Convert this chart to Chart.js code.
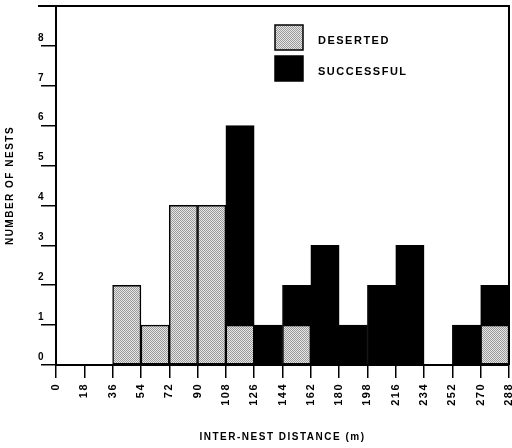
<!DOCTYPE html>
<html>
<head>
<meta charset="utf-8">
<script src="https://cdn.jsdelivr.net/npm/chart.js@4.4.1/dist/chart.umd.min.js"></script>
<style>
  html, body { margin: 0; padding: 0; background: #fff; }
  #wrap { width: 512px; height: 448px; }
</style>
</head>
<body>
<div id="wrap"><canvas id="myChart" width="512" height="448"></canvas></div>
<script>
// bin edges (m) - also the x tick labels
var distanceEdges = [0, 18, 36, 54, 72, 90, 108, 126, 144, 162, 180, 198, 216, 234, 252, 270, 288];
// number of nests per 18 m bin
var deserted   = [0, 0, 2, 1, 4, 4, 1, 0, 1, 0, 0, 0, 0, 0, 0, 1];
var successful = [0, 0, 0, 0, 0, 0, 5, 1, 1, 3, 1, 2, 3, 0, 1, 1];
var nestTicks  = [0, 1, 2, 3, 4, 5, 6, 7, 8];

//stipple fill for the deserted bars
function stipple(){
    var c = document.createElement("canvas");
    c.width = 2; c.height = 2;
    var g = c.getContext("2d");
    g.fillStyle = "#e6e6e6"; g.fillRect(0, 0, 2, 2);
    g.fillStyle = "#9a9a9a"; g.fillRect(0, 0, 1, 1); g.fillRect(1, 1, 1, 1);
    return g.createPattern(c, "repeat");
}

function toPoints(values){
    var pts = [];
    for (var i = 0; i < values.length; i++) {
        pts.push({x: (distanceEdges[i] + distanceEdges[i + 1]) / 2, y: values[i] === 0 ? null : values[i]});
    }
    return pts;
}

var FONT = "'Liberation Sans', Arial, sans-serif";

var framePlugin = {
    id: "frame",
    beforeDraw: function(chart){
        chart.ctx.letterSpacing = "1.5px";
    },
    afterDraw: function(chart){
        var ctx = chart.ctx, a = chart.chartArea;
        ctx.save();
        ctx.strokeStyle = "#000";
        ctx.lineWidth = 2;
        ctx.beginPath();
        ctx.moveTo(a.left - 18, a.top);
        ctx.lineTo(a.right, a.top);
        ctx.lineTo(a.right, a.bottom);
        ctx.stroke();

        //legend inside the plot
        ctx.font = "bold 11px " + FONT;
        ctx.textBaseline = "middle";
        ctx.fillStyle = "#000";
        chart.data.datasets.forEach(function(ds, i){
            var x = a.left + 219, y = a.top + 19 + i * 31;
            ctx.fillStyle = ds.backgroundColor;
            ctx.fillRect(x, y, 28, 25);
            ctx.lineWidth = 1.5;
            ctx.strokeRect(x, y, 28, 25);
            ctx.fillStyle = "#000";
            ctx.fillText(ds.label, x + 43, y + 16);
        });
        ctx.restore();
    }
};

var myChart = document.getElementById("myChart").getContext("2d");
var chart = new Chart(myChart, {
    type: "bar",
    data: {
        datasets: [
            {
                label: "DESERTED",
                data: toPoints(deserted),
                backgroundColor: stipple(),
                borderColor: "#000",
                borderWidth: 1.5,
                borderSkipped: false,
                barPercentage: 1,
                categoryPercentage: 1
            },
            {
                label: "SUCCESSFUL",
                data: toPoints(successful),
                backgroundColor: "#000",
                borderColor: "#000",
                borderWidth: 1,
                barPercentage: 1,
                categoryPercentage: 1
            }
        ]
    },
    options: {
        responsive: false,
        animation: false,
        layout: { padding: { top: 6, right: 3, left: 0, bottom: 0 } },
        plugins: {
            legend: { display: false },
            tooltip: { enabled: false }
        },
        scales: {
            x: {
                type: "linear",
                stacked: true,
                offset: false,
                min: distanceEdges[0],
                max: distanceEdges[distanceEdges.length - 1],
                afterBuildTicks: function(scale){
                    scale.ticks = distanceEdges.map(function(v){ return {value: v}; });
                },
                afterFit: function(scale){
                    scale.height = 83;
                    scale.paddingLeft = 0;
                    scale.paddingRight = 0;
                },
                grid: { offset: false, drawOnChartArea: false, tickLength: 13, color: "#000", lineWidth: 1.5 },
                border: { display: true, color: "#000", width: 2 },
                ticks: {
                    autoSkip: false,
                    minRotation: 90,
                    maxRotation: 90,
                    padding: 5,
                    color: "#000",
                    font: { family: FONT, size: 11, weight: "bold" }
                },
                title: {
                    display: true,
                    text: "INTER-NEST DISTANCE (m)",
                    color: "#000",
                    padding: { top: 4, bottom: 5 },
                    font: { family: FONT, size: 10, weight: "bold" }
                }
            },
            y: {
                stacked: true,
                min: 0,
                max: 9,
                afterBuildTicks: function(scale){
                    scale.ticks = nestTicks.map(function(v){ return {value: v}; });
                },
                afterFit: function(scale){
                    scale.width = 56;
                    scale.paddingTop = 0;
                    scale.paddingBottom = 0;
                },
                grid: { drawOnChartArea: false, tickLength: 15, color: "#000", lineWidth: 1.5 },
                border: { display: true, color: "#000", width: 2 },
                ticks: {
                    padding: -4,
                    labelOffset: -8,
                    color: "#000",
                    font: { family: FONT, size: 10, weight: "bold" }
                },
                title: {
                    display: true,
                    text: "NUMBER OF NESTS",
                    color: "#000",
                    padding: 4,
                    font: { family: FONT, size: 10, weight: "bold" }
                }
            }
        }
    },
    plugins: [framePlugin]
});
</script>
</body>
</html>
